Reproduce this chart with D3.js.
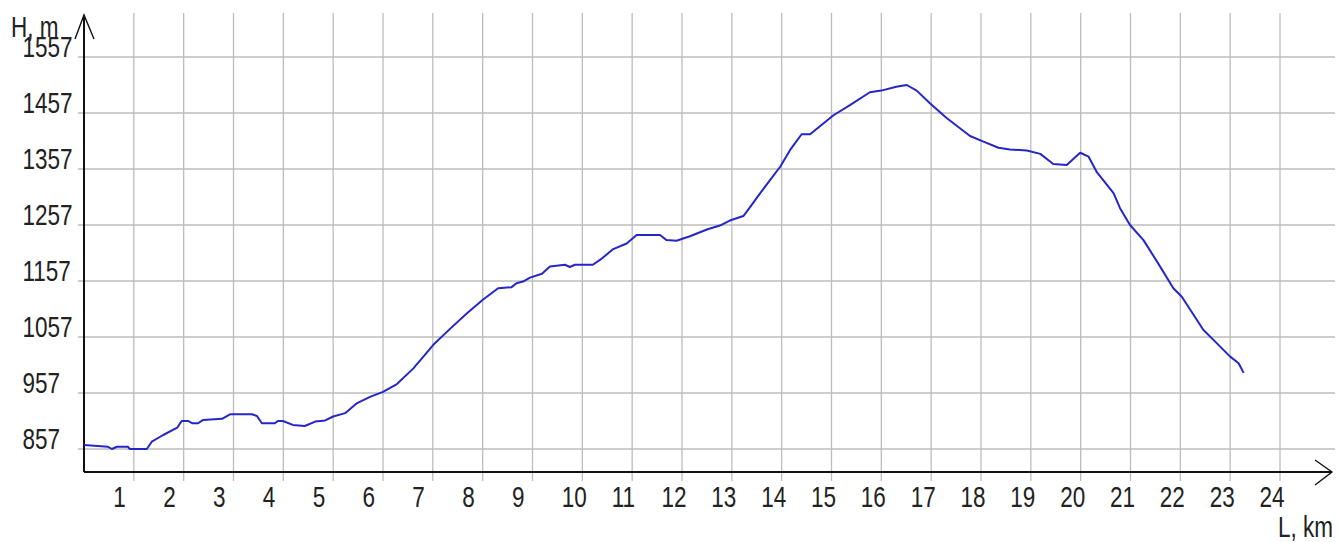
<!DOCTYPE html>
<html>
<head>
<meta charset="utf-8">
<script src="https://cdn.jsdelivr.net/npm/d3@7"></script>
<style>
  html, body { margin: 0; padding: 0; background: #fff; }
  svg { display: block; }
  text { font-family: "Liberation Sans", Arial, sans-serif; fill: #222; }
</style>
</head>
<body>
<svg id="chart" width="1339" height="542"></svg>
<script>
// ---- data ----
const distanceKm = [0, 0.48, 0.56, 0.66, 0.88, 0.92, 1.26, 1.36, 1.59, 1.87, 1.96, 2.09, 2.17, 2.29, 2.39, 2.77, 2.93, 3.37, 3.47, 3.57, 3.83, 3.89, 3.99, 4.19, 4.43, 4.64, 4.84, 5.0, 5.24, 5.48, 5.74, 6.0, 6.28, 6.61, 7.01, 7.35, 7.68, 8.01, 8.31, 8.58, 8.68, 8.81, 8.95, 9.19, 9.35, 9.65, 9.75, 9.85, 10.21, 10.39, 10.62, 10.89, 11.09, 11.56, 11.69, 11.89, 12.16, 12.5, 12.76, 12.96, 13.23, 13.3, 13.57, 13.97, 14.17, 14.4, 14.57, 15.04, 15.37, 15.77, 16.0, 16.3, 16.51, 16.71, 16.98, 17.31, 17.78, 18.05, 18.35, 18.58, 18.92, 19.19, 19.45, 19.72, 19.99, 20.16, 20.32, 20.66, 20.79, 20.99, 21.26, 21.53, 21.86, 22.03, 22.46, 22.73, 23.0, 23.17, 23.27];
const heightM = [864, 861, 857, 861, 861, 857, 857, 870, 882, 895, 907, 907, 903, 903, 909, 911, 919, 919, 916, 903, 903, 907, 907, 900, 898, 906, 908, 915, 921, 939, 950, 959, 973, 1001, 1043, 1072, 1099, 1124, 1144, 1146, 1153, 1156, 1163, 1170, 1183, 1186, 1182, 1186, 1186, 1197, 1214, 1224, 1239, 1239, 1230, 1229, 1237, 1249, 1256, 1265, 1273, 1281, 1314, 1361, 1391, 1419, 1419, 1453, 1471, 1494, 1497, 1504, 1507, 1497, 1474, 1448, 1416, 1406, 1395, 1392, 1390, 1384, 1366, 1364, 1386, 1379, 1352, 1314, 1287, 1257, 1230, 1192, 1144, 1129, 1070, 1046, 1022, 1010, 993];
const xTickLabels = d3.range(1, 25);                 // 1 .. 24 km
const yTickLabels = [857, 957, 1057, 1157, 1257, 1357, 1457, 1557];
const yTitle = "H, m";
const xTitle = "L, km";

// ---- scales ----
const x = d3.scaleLinear().domain([0, 24]).range([84, 1280]);
const y = d3.scaleLinear().domain([857, 1557]).range([449, 57]);

const svg = d3.select("#chart");
const axisY = 472;             // pixel row of the x axis
const axisX = x(0);
const textScale = 0.75;

// ---- grid ----
const grid = svg.append("g").attr("stroke", "#bcbcbc").attr("stroke-width", 1.3);
grid.selectAll("line.h").data(yTickLabels).join("line")
  .attr("x1", 78).attr("x2", 1335)
  .attr("y1", d => y(d)).attr("y2", d => y(d));
grid.selectAll("line.v").data(xTickLabels).join("line")
  .attr("x1", d => x(d)).attr("x2", d => x(d))
  .attr("y1", 13).attr("y2", 481);

// ---- axes ----
const ax = svg.append("g").attr("stroke", "#111").attr("fill", "none");
ax.append("line").attr("x1", axisX).attr("x2", axisX).attr("y1", 15).attr("y2", axisY).attr("stroke-width", 2);
ax.append("line").attr("x1", axisX).attr("x2", 1332).attr("y1", axisY).attr("y2", axisY).attr("stroke-width", 2);
ax.append("path").attr("d", `M${axisX - 9},39 L${axisX},15 L${axisX + 10},39`).attr("stroke-width", 1.4);
ax.append("path").attr("d", `M1315,460 L1332,${axisY} L1315,485`).attr("stroke-width", 1.4);

// ---- labels ----
function label(txt, px, py) {
  svg.append("text")
    .attr("transform", `translate(${px},${py}) scale(${textScale},1)`)
    .attr("font-size", 30)
    .text(txt);
}
yTickLabels.forEach(v => label(v, 22.5, y(v) - 0.5));
xTickLabels.forEach(v => label(v, x(v) - 20.5, 507));
label(yTitle, 11, 37);
label(xTitle, 1278, 537);

// ---- profile line ----
const pts = distanceKm.map((d, i) => [d, heightM[i]]);
svg.append("path")
  .datum(pts)
  .attr("fill", "none")
  .attr("stroke", "#2626c8")
  .attr("stroke-width", 2)
  .attr("stroke-linejoin", "round")
  .attr("d", d3.line().x(d => x(d[0])).y(d => y(d[1])));
</script>
</body>
</html>
